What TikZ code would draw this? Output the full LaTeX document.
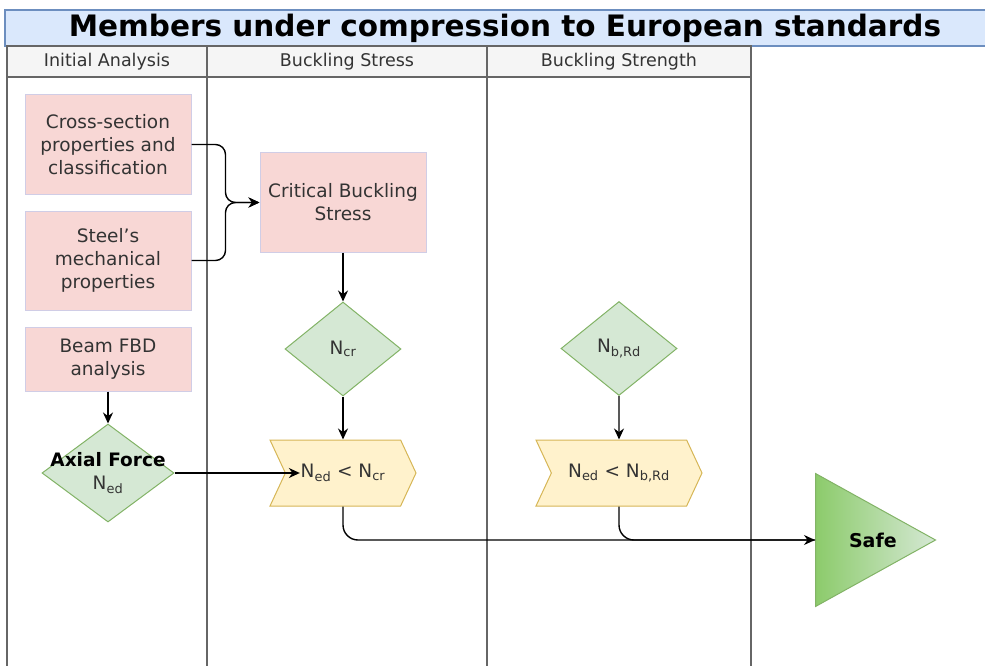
\documentclass[tikz,border=0pt]{standalone}
\usepackage{fontspec}
\setmainfont{DejaVu Sans}
\newfontfamily\titlefont{DejaVu Sans}
\newfontfamily\headfont{DejaVu Sans}
\usetikzlibrary{arrows.meta,positioning,shapes.geometric,shapes.symbols}

\definecolor{pinkfill}{HTML}{F8D7D5}
\definecolor{pinkline}{HTML}{D0CDE6}
\definecolor{greenfill}{HTML}{D5E8D4}
\definecolor{greenline}{HTML}{82B366}
\definecolor{safegreen}{HTML}{8CCB6B}
\definecolor{yellowfill}{HTML}{FFF2CC}
\definecolor{yellowline}{HTML}{D6B656}
\definecolor{bluefill}{HTML}{DAE8FC}
\definecolor{blueline}{HTML}{6C8EBF}
\definecolor{headfill}{HTML}{F5F5F5}
\definecolor{laneline}{HTML}{666666}
\definecolor{textgray}{HTML}{333333}

\begin{document}
\begin{tikzpicture}[x=1pt, y=-1pt, >={Stealth[length=11pt,width=10pt]}, line width=1.4pt,
  box node/.style={rectangle, draw=pinkline, fill=pinkfill, line width=1pt, minimum width=166pt, inner sep=2pt, align=center, text=textgray, font=\fontsize{18.5}{23}\selectfont},
  check node/.style={diamond, draw=greenline, fill=greenfill, line width=1pt, inner sep=0pt, minimum width=116pt, minimum height=94pt, align=center, text=textgray, font=\fontsize{18.5}{23}\selectfont},
  test node/.style={signal, signal from=west, signal to=east, signal pointer angle=130, draw=yellowline, fill=yellowfill, line width=1pt, inner sep=1pt, minimum height=66pt, text=textgray, font=\fontsize{18.5}{23}\selectfont},
  head node/.style={rectangle, draw=laneline, fill=headfill, line width=1.2pt, minimum height=31pt, text=textgray, font=\headfont\fontsize{17.5}{20}\selectfont},
  lane/.style={draw=laneline, line width=1.2pt}]
\useasboundingbox (0,0) rectangle (985,666);
% swimlanes
\begin{scope}
\draw[lane] (7,77) rectangle (207,690);
\draw[lane] (207,77) rectangle (487,690);
\draw[lane] (487,77) rectangle (751,690);
\node[rectangle, draw=blueline, fill=bluefill, line width=1.2pt, minimum width=1000pt, minimum height=36pt, font=\titlefont\bfseries\fontsize{29.5}{32}\selectfont] (title) at (505,28) {Members under compression to European standards};
\node[head node, minimum width=200pt] (hdrA) at (107,61.5) {Initial Analysis};
\node[head node, minimum width=280pt] (hdrB) at (347,61.5) {Buckling Stress};
\node[head node, minimum width=264pt] (hdrC) at (619,61.5) {Buckling Strength};
\end{scope}
% nodes
\begin{scope}
\node[box node, minimum height=99pt] (xsec) at (108,144.5) {Cross-section\\properties and\\classification};
\node[box node, minimum height=99pt] (steel) at (108,260.5) {Steel's\\mechanical\\properties};
\node[box node, minimum height=64pt] (fbd) at (108,359) {Beam FBD\\analysis};
\node[box node, minimum height=99pt] (crit) at (343,202.5) {Critical Buckling\\Stress};
\node[check node] (ncr) at (343,349) {N\textsubscript{cr}};
\node[check node] (nbrd) at (619,348.5) {N\textsubscript{b,Rd}};
\node[check node, aspect=1.35, inner sep=-13pt, minimum width=132pt, minimum height=98pt] (axial) at (108,473) {\textcolor{black}{\bfseries Axial Force}\\N\textsubscript{ed}};
\node[test node, minimum width=146pt] (cmpA) at (343,473) {N\textsubscript{ed} < N\textsubscript{cr}};
\node[test node, minimum width=166pt] (cmpB) at (619,473) {N\textsubscript{ed} < N\textsubscript{b,Rd}};
\node[isosceles triangle, isosceles triangle stretches, minimum width=133pt, minimum height=120pt, anchor=west, draw=greenline, line width=1pt, left color=safegreen, right color=greenfill, label={[xshift=19pt, font=\bfseries\fontsize{19}{22}\selectfont]center:Safe}] (safe) at (815,540) {};
\end{scope}
% connectors
\begin{scope}
\draw[->, rounded corners=10pt] (xsec.east) -| ([xshift=-34pt]crit.west) -- (crit.west);
\draw[->, rounded corners=10pt] (steel.east) -| ([xshift=-34pt]crit.west) -- (crit.west);
\draw[->] (crit) -- (ncr);
\draw[->] (ncr) -- (cmpA);
\draw[->] (fbd) -- (axial);
\draw[->] (axial.east) -- ([xshift=15pt]cmpA.west);
\draw[->] (nbrd) -- (cmpB);
\draw[->, rounded corners=15pt] (cmpA.south) |- (safe.west);
\draw[rounded corners=15pt] (cmpB.south) |- (safe.west);
\end{scope}
\end{tikzpicture}
\end{document}
